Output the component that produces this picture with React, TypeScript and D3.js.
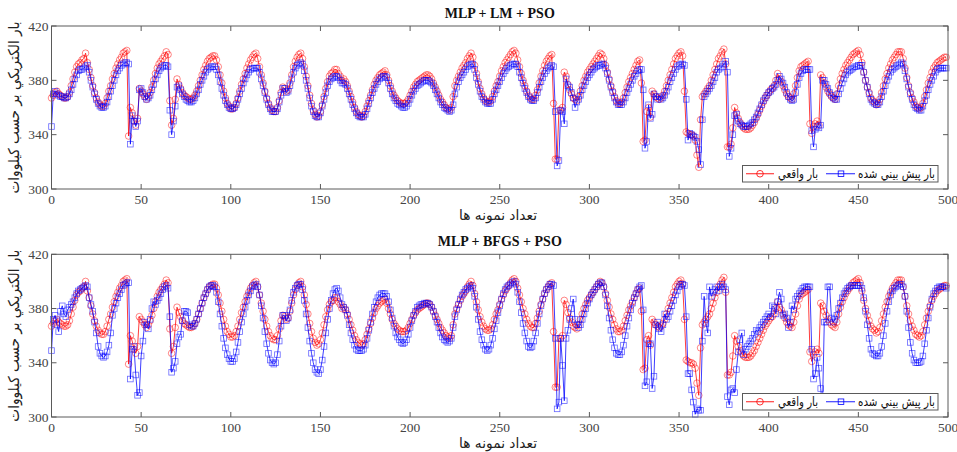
import React from "react";
import * as d3 from "d3";

// ---- data ----
const actual: number[] = [
  367, 369, 371, 372, 370, 369, 368, 367, 367, 368,
  371, 376, 381, 386, 390, 392, 393, 395, 396, 400,
  393, 388, 382, 376, 371, 367, 364, 362, 361, 361,
  363, 367, 372, 376, 381, 385, 389, 392, 395, 397,
  400, 401, 402, 339, 360, 356, 350, 347, 352, 374,
  372, 370, 368, 366, 368, 371, 375, 380, 385, 389,
  392, 394, 396, 398, 401, 399, 365, 347, 352, 366,
  381, 377, 374, 371, 369, 368, 367, 366, 366, 367,
  369, 372, 376, 380, 384, 388, 391, 394, 396, 397,
  398, 398, 395, 390, 384, 378, 372, 367, 363, 361,
  359, 359, 360, 363, 367, 372, 377, 381, 385, 389,
  392, 395, 397, 399, 400, 396, 390, 384, 378, 372,
  367, 363, 360, 358, 357, 357, 360, 365, 371, 375,
  374, 372, 373, 378, 384, 390, 394, 397, 399, 400,
  396, 390, 383, 376, 369, 363, 358, 355, 353, 354,
  357, 362, 368, 374, 379, 383, 385, 386, 388, 388,
  385, 383, 380, 381, 379, 376, 372, 368, 364, 360,
  357, 355, 354, 353, 354, 357, 361, 365, 369, 373,
  377, 380, 382, 384, 385, 386, 387, 384, 380, 376,
  372, 369, 367, 365, 364, 363, 363, 363, 364, 366,
  369, 372, 375, 377, 379, 380, 381, 382, 383, 384,
  384, 383, 381, 378, 375, 372, 369, 366, 364, 362,
  360, 359, 358, 360, 368, 376, 380, 383, 386, 389,
  391, 393, 396, 398, 400, 397, 391, 385, 379, 374,
  370, 367, 365, 364, 364, 365, 368, 372, 376, 379,
  383, 387, 390, 393, 395, 397, 399, 401, 402, 400,
  395, 390, 385, 380, 376, 372, 369, 367, 366, 366,
  369, 373, 378, 383, 387, 391, 394, 396, 398, 399,
  363, 322, 322, 358, 358, 360, 386, 383, 377, 373,
  370, 367, 366, 365, 368, 372, 376, 380, 383, 386,
  388, 390, 392, 394, 396, 398, 400, 399, 396, 391,
  386, 381, 376, 372, 368, 365, 363, 363, 364, 367,
  371, 375, 379, 382, 385, 388, 391, 394, 395, 378,
  335, 336, 357, 360, 353, 372, 370, 368, 367, 366,
  367, 369, 372, 376, 380, 384, 388, 392, 396, 398,
  400, 401, 398, 372, 342, 341, 340, 340, 339, 336,
  325, 316, 351, 368, 370, 372, 374, 376, 380, 384,
  388, 392, 396, 398, 401, 403, 392, 331, 331, 333,
  345, 360, 356, 352, 349, 347, 345, 344, 344, 344,
  345, 347, 349, 352, 355, 358, 361, 364, 367, 369,
  371, 373, 374, 376, 380, 385, 381, 379, 376, 373,
  370, 368, 367, 366, 370, 376, 382, 387, 390, 391,
  392, 393, 394, 348, 341, 346, 348, 350, 347, 384,
  382, 378, 375, 372, 370, 368, 367, 366, 370, 376,
  381, 385, 388, 391, 393, 395, 397, 399, 400, 401,
  402, 399, 393, 386, 380, 375, 371, 367, 365, 364,
  362, 363, 366, 371, 376, 381, 385, 389, 392, 395,
  397, 399, 401, 401, 401, 396, 389, 382, 376, 371,
  367, 364, 361, 360, 359, 360, 363, 368, 373, 378,
  382, 386, 389, 391, 393, 394, 395, 396, 397, 397,
];

const predLM: number[] = [
  346, 370, 372, 370, 369, 368, 368, 367, 367, 368,
  370, 373, 377, 381, 384, 387, 388, 388, 389, 390,
  391, 386, 380, 375, 370, 366, 363, 361, 360, 360,
  361, 364, 368, 372, 376, 380, 384, 387, 389, 391,
  392, 393, 393, 392, 333, 354, 350, 346, 350, 373,
  374, 371, 368, 366, 367, 369, 373, 377, 381, 384,
  387, 389, 390, 391, 391, 390, 358, 340, 350, 361,
  375, 376, 373, 370, 368, 366, 365, 364, 364, 365,
  367, 370, 373, 377, 380, 383, 386, 388, 389, 390,
  390, 390, 388, 384, 379, 374, 369, 365, 362, 360,
  359, 359, 360, 362, 366, 370, 374, 378, 381, 384,
  386, 388, 389, 389, 389, 389, 386, 381, 376, 371,
  366, 362, 359, 357, 357, 357, 359, 364, 369, 374,
  374, 371, 372, 376, 381, 386, 389, 391, 392, 393,
  392, 387, 380, 374, 367, 361, 357, 354, 353, 353,
  356, 361, 366, 371, 376, 379, 381, 382, 383, 383,
  382, 380, 378, 378, 377, 374, 370, 366, 362, 359,
  356, 354, 353, 353, 353, 355, 359, 363, 367, 371,
  374, 377, 379, 381, 382, 383, 383, 382, 378, 374,
  370, 367, 365, 363, 362, 361, 360, 360, 361, 363,
  366, 369, 372, 374, 376, 377, 378, 379, 380, 380,
  380, 379, 378, 376, 373, 370, 367, 364, 362, 360,
  359, 358, 357, 358, 362, 370, 375, 379, 382, 384,
  386, 388, 390, 391, 392, 392, 388, 382, 377, 372,
  368, 366, 364, 363, 363, 363, 366, 370, 373, 376,
  379, 382, 385, 387, 389, 390, 391, 392, 392, 392,
  390, 386, 382, 378, 374, 371, 368, 366, 365, 365,
  367, 371, 375, 379, 382, 385, 387, 389, 390, 391,
  390, 357, 317, 321, 358, 357, 348, 381, 376, 375,
  371, 367, 360, 364, 366, 369, 373, 376, 379, 382,
  384, 386, 388, 389, 390, 391, 391, 392, 392, 389,
  385, 380, 375, 371, 367, 364, 362, 362, 362, 364,
  367, 371, 374, 377, 380, 383, 385, 387, 388, 388,
  373, 330, 335, 362, 352, 355, 370, 368, 366, 368,
  366, 367, 369, 372, 375, 379, 382, 385, 388, 390,
  391, 392, 392, 391, 366, 336, 341, 340, 339, 338,
  335, 329, 318, 351, 368, 370, 372, 374, 376, 379,
  382, 386, 388, 389, 390, 392, 394, 386, 324, 330,
  340, 354, 355, 350, 348, 347, 346, 346, 346, 347,
  348, 349, 351, 353, 356, 359, 362, 365, 367, 369,
  371, 372, 374, 375, 377, 380, 383, 381, 378, 375,
  371, 368, 366, 365, 366, 371, 377, 382, 385, 387,
  388, 388, 388, 388, 343, 331, 344, 346, 345, 347,
  380, 380, 377, 374, 371, 369, 367, 366, 366, 370,
  374, 378, 381, 384, 386, 387, 388, 389, 390, 390,
  391, 391, 391, 386, 380, 375, 370, 366, 364, 363,
  362, 362, 364, 368, 372, 376, 380, 383, 386, 388,
  389, 390, 391, 392, 393, 392, 387, 381, 375, 370,
  366, 362, 360, 359, 358, 358, 361, 365, 369, 373,
  377, 380, 383, 386, 388, 389, 389, 389, 389, 389,
];

const predBFGS: number[] = [
  349, 372, 375, 368, 363, 378, 382, 376, 374, 379,
  381, 383, 385, 388, 391, 393, 394, 395, 396, 397,
  396, 388, 383, 378, 370, 362, 352, 347, 345, 344,
  345, 348, 353, 362, 375, 380, 384, 388, 391, 394,
  397, 398, 399, 399, 328, 350, 352, 331, 316, 318,
  345, 356, 370, 368, 365, 372, 380, 385, 383, 386,
  388, 391, 394, 396, 397, 395, 374, 333, 336, 341,
  354, 359, 361, 371, 378, 378, 377, 368, 367, 367,
  369, 372, 376, 380, 384, 388, 391, 394, 396, 397,
  397, 396, 392, 385, 376, 367, 358, 351, 346, 343,
  341, 341, 343, 348, 355, 363, 370, 376, 381, 386,
  390, 393, 396, 397, 398, 396, 390, 382, 373, 363,
  354, 347, 342, 340, 339, 340, 346, 356, 367, 375,
  375, 371, 373, 379, 386, 392, 395, 397, 398, 398,
  394, 386, 376, 366, 356, 347, 340, 335, 333, 332,
  335, 342, 352, 362, 372, 380, 386, 391, 394, 395,
  393, 388, 383, 381, 379, 375, 368, 362, 357, 353,
  350, 349, 349, 349, 350, 353, 358, 364, 370, 376,
  381, 385, 388, 390, 391, 391, 391, 389, 385, 379,
  373, 367, 362, 359, 357, 355, 354, 355, 357, 361,
  366, 371, 375, 378, 381, 382, 383, 383, 384, 384,
  384, 383, 381, 378, 374, 370, 366, 362, 359, 357,
  356, 355, 356, 358, 366, 374, 379, 383, 387, 390,
  392, 394, 395, 396, 397, 395, 389, 381, 372, 363,
  357, 353, 350, 349, 350, 353, 358, 365, 371, 377,
  382, 387, 391, 394, 396, 397, 398, 399, 400, 398,
  392, 385, 377, 369, 362, 356, 352, 351, 352, 356,
  362, 369, 376, 382, 387, 391, 394, 396, 398, 398,
  397, 358, 306, 311, 358, 338, 312, 358, 364, 372,
  380, 387, 372, 368, 366, 368, 372, 376, 380, 384,
  387, 390, 392, 394, 396, 398, 399, 399, 396, 390,
  382, 373, 364, 357, 351, 347, 346, 346, 348, 353,
  360, 367, 373, 379, 384, 388, 391, 394, 396, 397,
  379, 323, 326, 354, 354, 321, 330, 368, 370, 365,
  363, 368, 376, 372, 374, 378, 382, 386, 390, 393,
  396, 398, 398, 397, 374, 332, 332, 320, 311, 302,
  306, 305, 305, 356, 389, 369, 362, 396, 389, 392,
  394, 396, 393, 396, 398, 396, 394, 315, 309, 320,
  321, 318, 335, 348, 357, 362, 346, 350, 352, 354,
  356, 358, 361, 364, 363, 366, 368, 370, 372, 374,
  376, 374, 382, 381, 376, 385, 392, 387, 375, 376,
  373, 366, 370, 382, 379, 387, 389, 391, 393, 395,
  396, 396, 396, 396, 350, 328, 332, 344, 336, 321,
  308, 370, 370, 396, 396, 373, 370, 372, 375, 380,
  384, 388, 391, 393, 395, 396, 397, 397, 397, 397,
  397, 397, 395, 388, 378, 368, 358, 350, 347, 346,
  345, 345, 347, 352, 360, 369, 378, 385, 390, 393,
  395, 396, 397, 398, 398, 396, 389, 378, 366, 355,
  347, 342, 340, 340, 340, 341, 345, 354, 364, 373,
  381, 387, 391, 393, 395, 396, 396, 396, 396, 395,
];

const xTicks = [0, 50, 100, 150, 200, 250, 300, 350, 400, 450, 500];
const yTicks = [300, 340, 380, 420];
const titles = ["MLP + LM + PSO", "MLP + BFGS + PSO"];
const xLabel = "تعداد نمونه ها";
const yLabel = "بار الكتريكي بر حسب كيلووات";
const legendActual = "بار واقعي";
const legendPred = "بار پيش بيني شده";

const W = 957;
const H = 452;
const RED = "#ff0000";
const BLUE = "#0000ff";
const AXIS = "#5a5a5a";
const SERIF = "'Liberation Serif', 'DejaVu Serif', serif";
const ARABIC = "'DejaVu Sans', 'Noto Sans', sans-serif";

function Panel({ top, bottom, title, pred }: { top: number; bottom: number; title: string; pred: number[] }) {
  const left = 51.5;
  const right = 948;
  const x = d3.scaleLinear().domain([0, 500]).range([left, right]);
  const y = d3.scaleLinear().domain([300, 420]).range([bottom, top]);
  const line = d3
    .line<number>()
    .x((_, i) => x(i))
    .y((d) => y(d));
  const tl = 5;
  const sq = 5.6;
  const lgTop = bottom - 23.5;
  const lgH = 16.5;
  const lgL = 742.5;
  const lgR = 938;
  const lgY = lgTop + lgH / 2;
  const midY = (top + bottom) / 2;
  return (
    <g>
      <text x={(left + right) / 2} y={top - 8} textAnchor="middle" fontFamily={SERIF} fontWeight="bold" fontSize={14} fill="#111">
        {title}
      </text>
      {/* series */}
      <path d={line(actual) || ""} fill="none" stroke={RED} strokeWidth={0.9} strokeOpacity={0.85} />
      {actual.map((v, i) => (
        <circle key={"a" + i} cx={x(i)} cy={y(v)} r={3.3} fill="none" stroke={RED} strokeWidth={0.8} strokeOpacity={0.6} />
      ))}
      <path d={line(pred) || ""} fill="none" stroke={BLUE} strokeWidth={0.9} strokeOpacity={0.85} />
      {pred.map((v, i) => (
        <rect key={"p" + i} x={x(i) - sq / 2} y={y(v) - sq / 2} width={sq} height={sq} fill="none" stroke={BLUE} strokeWidth={0.8} strokeOpacity={0.6} />
      ))}
      {/* axes box */}
      <rect x={left} y={top} width={right - left} height={bottom - top} fill="none" stroke={AXIS} strokeWidth={1} />
      {xTicks.map((t) => (
        <g key={"xt" + t}>
          <line x1={x(t)} x2={x(t)} y1={bottom} y2={bottom - tl} stroke={AXIS} />
          <line x1={x(t)} x2={x(t)} y1={top} y2={top + tl} stroke={AXIS} />
          <text x={x(t)} y={bottom + 15} textAnchor="middle" fontFamily={SERIF} fontSize={13.5} fill="#444">
            {t}
          </text>
        </g>
      ))}
      {yTicks.map((t) => (
        <g key={"yt" + t}>
          <line x1={left} x2={left + tl} y1={y(t)} y2={y(t)} stroke={AXIS} />
          <line x1={right} x2={right - tl} y1={y(t)} y2={y(t)} stroke={AXIS} />
          <text x={left - 3} y={y(t) + 4.5} textAnchor="end" fontFamily={SERIF} fontSize={13.5} fill="#444">
            {t}
          </text>
        </g>
      ))}
      <text x={498} y={bottom + 31} textAnchor="middle" fontFamily={ARABIC} fontSize={14} fill="#222" textLength={78} lengthAdjust="spacingAndGlyphs">
        {xLabel}
      </text>
      <text transform={`translate(19,${midY}) rotate(-90)`} textAnchor="middle" fontFamily={ARABIC} fontSize={15} fill="#222" textLength={172} lengthAdjust="spacingAndGlyphs">
        {yLabel}
      </text>
      {/* legend */}
      <rect x={lgL} y={lgTop} width={lgR - lgL} height={lgH} fill="#fff" stroke={AXIS} strokeWidth={1} />
      <line x1={746} x2={774} y1={lgY} y2={lgY} stroke={RED} strokeWidth={0.9} />
      <circle cx={760} cy={lgY} r={3.3} fill="none" stroke={RED} strokeWidth={0.8} />
      <text x={778} y={lgY + 4.5} fontFamily={ARABIC} fontSize={12.5} fill="#111" textLength={40} lengthAdjust="spacingAndGlyphs">
        {legendActual}
      </text>
      <line x1={826} x2={855} y1={lgY} y2={lgY} stroke={BLUE} strokeWidth={0.9} />
      <rect x={841 - sq / 2} y={lgY - sq / 2} width={sq} height={sq} fill="none" stroke={BLUE} strokeWidth={0.8} />
      <text x={858} y={lgY + 4.5} fontFamily={ARABIC} fontSize={12.5} fill="#111" textLength={77} lengthAdjust="spacingAndGlyphs">
        {legendPred}
      </text>
    </g>
  );
}

export default function App() {
  return (
    <svg width={W} height={H} style={{ position: "absolute", left: 0, top: 0, background: "#fff" }}>
      <rect width={W} height={H} fill="#fff" />
      <Panel top={26} bottom={189} title={titles[0]} pred={predLM} />
      <Panel top={254.3} bottom={417} title={titles[1]} pred={predBFGS} />
    </svg>
  );
}
